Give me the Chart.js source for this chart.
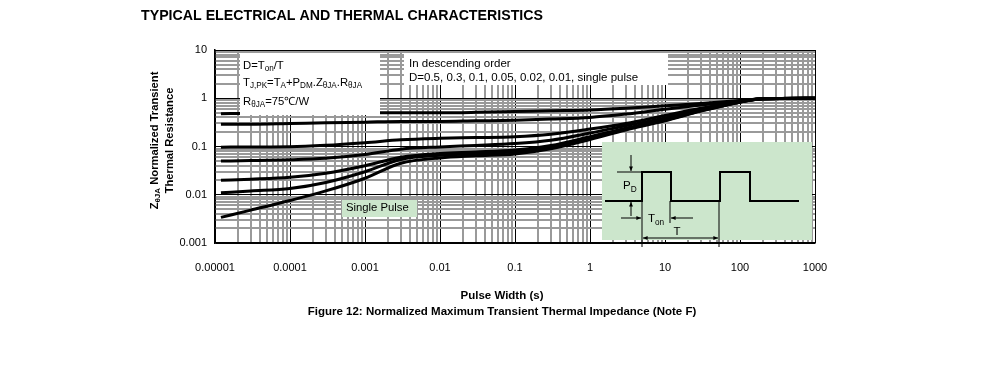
<!DOCTYPE html>
<html>
<head>
<meta charset="utf-8">
<script src="https://cdn.jsdelivr.net/npm/chart.js@4/dist/chart.umd.min.js"></script>
<style>
  body { margin: 0; background: #fff; }
  #wrap { position: relative; width: 991px; height: 369px; }
</style>
</head>
<body>
<div id="wrap"><canvas id="zthChart" width="991" height="369"></canvas></div>
<script>
// pulse width (s) where the curves were read
const xValues = [1.2e-5, 3e-5, 1e-4, 3e-4, 1e-3, 3e-3, 1e-2, 3e-2, 0.1, 0.3, 1, 3, 10, 30, 100, 200, 1000];
// normalized Zth for each duty cycle, descending order
const d05     = [0.48, 0.49, 0.49, 0.49, 0.5, 0.5, 0.5, 0.51, 0.53, 0.55, 0.57, 0.62, 0.7, 0.78, 0.9, 0.98, 1.0];
const d03     = [0.29, 0.29, 0.3, 0.31, 0.32, 0.33, 0.33, 0.34, 0.35, 0.37, 0.4, 0.47, 0.59, 0.72, 0.88, 0.98, 1.0];
const d01     = [0.097, 0.098, 0.099, 0.106, 0.12, 0.138, 0.148, 0.153, 0.16, 0.18, 0.23, 0.3, 0.44, 0.62, 0.86, 0.98, 1.0];
const d005    = [0.05, 0.051, 0.053, 0.057, 0.068, 0.088, 0.098, 0.105, 0.115, 0.135, 0.19, 0.27, 0.39, 0.58, 0.85, 0.98, 1.0];
const d002    = [0.02, 0.021, 0.023, 0.028, 0.04, 0.06, 0.072, 0.077, 0.085, 0.105, 0.16, 0.24, 0.36, 0.56, 0.84, 0.98, 1.0];
const d001    = [0.011, 0.012, 0.0135, 0.018, 0.03, 0.054, 0.066, 0.071, 0.078, 0.098, 0.15, 0.23, 0.35, 0.55, 0.84, 0.98, 1.0];
const dSingle = [0.0034, 0.0048, 0.0076, 0.012, 0.022, 0.045, 0.058, 0.064, 0.07, 0.09, 0.14, 0.22, 0.34, 0.54, 0.83, 0.98, 1.0];

const xTickLabels = ['0.00001', '0.0001', '0.001', '0.01', '0.1', '1', '10', '100', '1000'];
const yTickLabels = ['0.001', '0.01', '0.1', '1', '10'];

const FONT = '"Liberation Sans", Arial, sans-serif';

function decadeTicks(e0, e1) {
  const out = [];
  for (let e = e0; e < e1; e++) {
    for (let m = 1; m <= 9; m++) out.push({ value: parseFloat((m * Math.pow(10, e)).toPrecision(6)) });
  }
  out.push({ value: Math.pow(10, e1) });
  return out;
}
function isDecade(v) {
  const l = Math.log10(v);
  return Math.abs(l - Math.round(l)) < 1e-6;
}

// text with subscripts: parts = [[text, isSub], ...]
function richWidth(ctx, parts, size, weight) {
  let w = 0;
  parts.forEach(p => {
    ctx.font = weight + ' ' + (p[1] ? size * 0.72 : size) + 'px ' + FONT;
    w += ctx.measureText(p[0]).width;
  });
  return w;
}
function drawRich(ctx, parts, x, y, size, weight, align) {
  weight = weight || 'normal';
  let cx = x;
  if (align === 'center') cx = x - richWidth(ctx, parts, size, weight) / 2;
  ctx.textBaseline = 'middle';
  ctx.textAlign = 'left';
  parts.forEach(p => {
    const s = p[1] ? size * 0.72 : size;
    ctx.font = weight + ' ' + s + 'px ' + FONT;
    ctx.fillText(p[0], cx, p[1] ? y + size * 0.28 : y);
    cx += ctx.measureText(p[0]).width;
  });
}
function arrow(ctx, x1, y1, x2, y2) {
  ctx.beginPath(); ctx.moveTo(x1, y1); ctx.lineTo(x2, y2); ctx.stroke();
  const a = Math.atan2(y2 - y1, x2 - x1), h = 5;
  ctx.beginPath();
  ctx.moveTo(x2, y2);
  ctx.lineTo(x2 - h * Math.cos(a - 0.4), y2 - h * Math.sin(a - 0.4));
  ctx.lineTo(x2 - h * Math.cos(a + 0.4), y2 - h * Math.sin(a + 0.4));
  ctx.closePath(); ctx.fill();
}

const notes = {
  id: 'notes',
  afterDatasetsDraw(chart) {
    const ctx = chart.ctx, ca = chart.chartArea;
    const L = ca.left, T = ca.top;
    ctx.save();
    ctx.fillStyle = '#000';

    // formula box
    ctx.fillStyle = '#fff';
    ctx.fillRect(L + 25, T + 3, 140, 62);
    ctx.fillStyle = '#000';
    drawRich(ctx, [['D=T', 0], ['on', 1], ['/T', 0]], L + 28, T + 16, 11.3);
    drawRich(ctx, [['T', 0], ['J,PK', 1], ['=T', 0], ['A', 1], ['+P', 0], ['DM', 1], ['.Z', 0], ['θJA', 1], ['.R', 0], ['θJA', 1]], L + 28, T + 33, 11.3);
    drawRich(ctx, [['R', 0], ['θJA', 1], ['=75℃/W', 0]], L + 28, T + 52, 11.3);

    // order box
    ctx.fillStyle = '#fff';
    ctx.fillRect(L + 189, T + 3, 264, 32);
    ctx.fillStyle = '#000';
    drawRich(ctx, [['In descending order', 0]], L + 194, T + 14, 11.5);
    drawRich(ctx, [['D=0.5, 0.3, 0.1, 0.05, 0.02, 0.01, single pulse', 0]], L + 194, T + 28, 11.5);

    // single pulse tag
    ctx.fillStyle = '#cce6cc';
    ctx.fillRect(L + 127, T + 150, 75, 17);
    ctx.fillStyle = '#000';
    drawRich(ctx, [['Single Pulse', 0]], L + 131, T + 158, 11.3);

    // pulse inset
    const X = L + 387, Y = T + 92;
    ctx.fillStyle = '#cce6cc';
    ctx.fillRect(X, Y, 210, 98);
    ctx.fillStyle = '#000';
    ctx.strokeStyle = '#000';
    ctx.lineWidth = 2;
    ctx.beginPath();
    [[3, 59], [40, 59], [40, 30], [69, 30], [69, 59], [118, 59], [118, 30], [148, 30], [148, 59], [197, 59]]
      .forEach((p, i) => i ? ctx.lineTo(X + p[0], Y + p[1]) : ctx.moveTo(X + p[0], Y + p[1]));
    ctx.stroke();
    ctx.lineWidth = 1;
    ctx.beginPath();
    ctx.moveTo(X + 15, Y + 30); ctx.lineTo(X + 40, Y + 30);
    ctx.moveTo(X + 40, Y + 59); ctx.lineTo(X + 40, Y + 105);
    ctx.moveTo(X + 68, Y + 59); ctx.lineTo(X + 68, Y + 81);
    ctx.moveTo(X + 117, Y + 59); ctx.lineTo(X + 117, Y + 105);
    ctx.stroke();
    arrow(ctx, X + 29, Y + 13, X + 29, Y + 29);
    arrow(ctx, X + 29, Y + 74, X + 29, Y + 60);
    arrow(ctx, X + 19, Y + 76, X + 39, Y + 76);
    arrow(ctx, X + 91, Y + 76, X + 69, Y + 76);
    arrow(ctx, X + 78, Y + 96, X + 41, Y + 96);
    arrow(ctx, X + 78, Y + 96, X + 116, Y + 96);
    drawRich(ctx, [['P', 0], ['D', 1]], X + 21, Y + 44, 11.5);
    drawRich(ctx, [['T', 0], ['on', 1]], X + 46, Y + 77, 11.5);
    drawRich(ctx, [['T', 0]], X + 75, Y + 90, 11.5, 'normal', 'center');
    ctx.restore();
  },
  afterDraw(chart) {
    const ctx = chart.ctx, ca = chart.chartArea;
    ctx.save();
    ctx.fillStyle = '#000';
    drawRich(ctx, [['TYPICAL ELECTRICAL AND THERMAL CHARACTERISTICS', 0]], 141, 16, 14.2, 'bold');
    drawRich(ctx, [['Pulse Width (s)', 0]], 502, 296, 11.5, 'bold', 'center');
    drawRich(ctx, [['Figure 12: Normalized Maximum Transient Thermal Impedance (Note F)', 0]], 502, 312, 11.5, 'bold', 'center');
    // y axis title, two rotated lines
    const cy = (ca.top + ca.bottom) / 2 - 6;
    ctx.translate(155, cy);
    ctx.rotate(-Math.PI / 2);
    drawRich(ctx, [['Z', 0], ['θJA', 1], [' Normalized Transient', 0]], 0, 0, 11.2, 'bold', 'center');
    drawRich(ctx, [['Thermal Resistance', 0]], 0, 15, 11.2, 'bold', 'center');
    ctx.restore();
  }
};

const series = [d05, d03, d01, d005, d002, d001, dSingle];
const seriesNames = ['D=0.5', 'D=0.3', 'D=0.1', 'D=0.05', 'D=0.02', 'D=0.01', 'Single Pulse'];

new Chart(document.getElementById('zthChart').getContext('2d'), {
  type: 'line',
  data: {
    datasets: series.map((s, i) => ({
      label: seriesNames[i],
      data: xValues.map((x, j) => ({ x: x, y: s[j] })),
      borderColor: '#000',
      borderWidth: 3,
      pointRadius: 0,
      cubicInterpolationMode: 'monotone',
      fill: false
    }))
  },
  options: {
    responsive: false,
    animation: false,
    devicePixelRatio: 1,
    layout: { padding: { left: 0, top: 50, right: 176, bottom: 0 } },
    plugins: { legend: { display: false }, tooltip: { enabled: false } },
    scales: {
      x: {
        type: 'logarithmic',
        min: 1e-5, max: 1000,
        afterFit: s => { s.height = 126; },
        afterBuildTicks: s => { s.ticks = decadeTicks(-5, 3); },
        border: { color: '#000', width: 1.5 },
        grid: {
          drawTicks: false,
          color: c => (c.tick && isDecade(c.tick.value)) ? '#000' : '#9a9a9a',
          lineWidth: c => (c.tick && isDecade(c.tick.value)) ? 1 : 2
        },
        ticks: {
          autoSkip: false, maxRotation: 0, padding: 18,
          color: '#000', font: { family: FONT, size: 11 },
          callback: v => isDecade(v) ? xTickLabels[Math.round(Math.log10(v)) + 5] : ''
        }
      },
      y: {
        type: 'logarithmic',
        min: 0.001, max: 10,
        afterFit: s => { s.width = 215; },
        afterBuildTicks: s => { s.ticks = decadeTicks(-3, 1); },
        border: { color: '#000', width: 1.5 },
        grid: {
          drawTicks: false,
          color: c => (c.tick && isDecade(c.tick.value)) ? '#000' : '#9a9a9a',
          lineWidth: c => (c.tick && isDecade(c.tick.value)) ? 1 : 2
        },
        ticks: {
          autoSkip: false, padding: 8,
          color: '#000', font: { family: FONT, size: 11 },
          callback: v => isDecade(v) ? yTickLabels[Math.round(Math.log10(v)) + 3] : ''
        }
      }
    }
  },
  plugins: [notes]
});
</script>
</body>
</html>
